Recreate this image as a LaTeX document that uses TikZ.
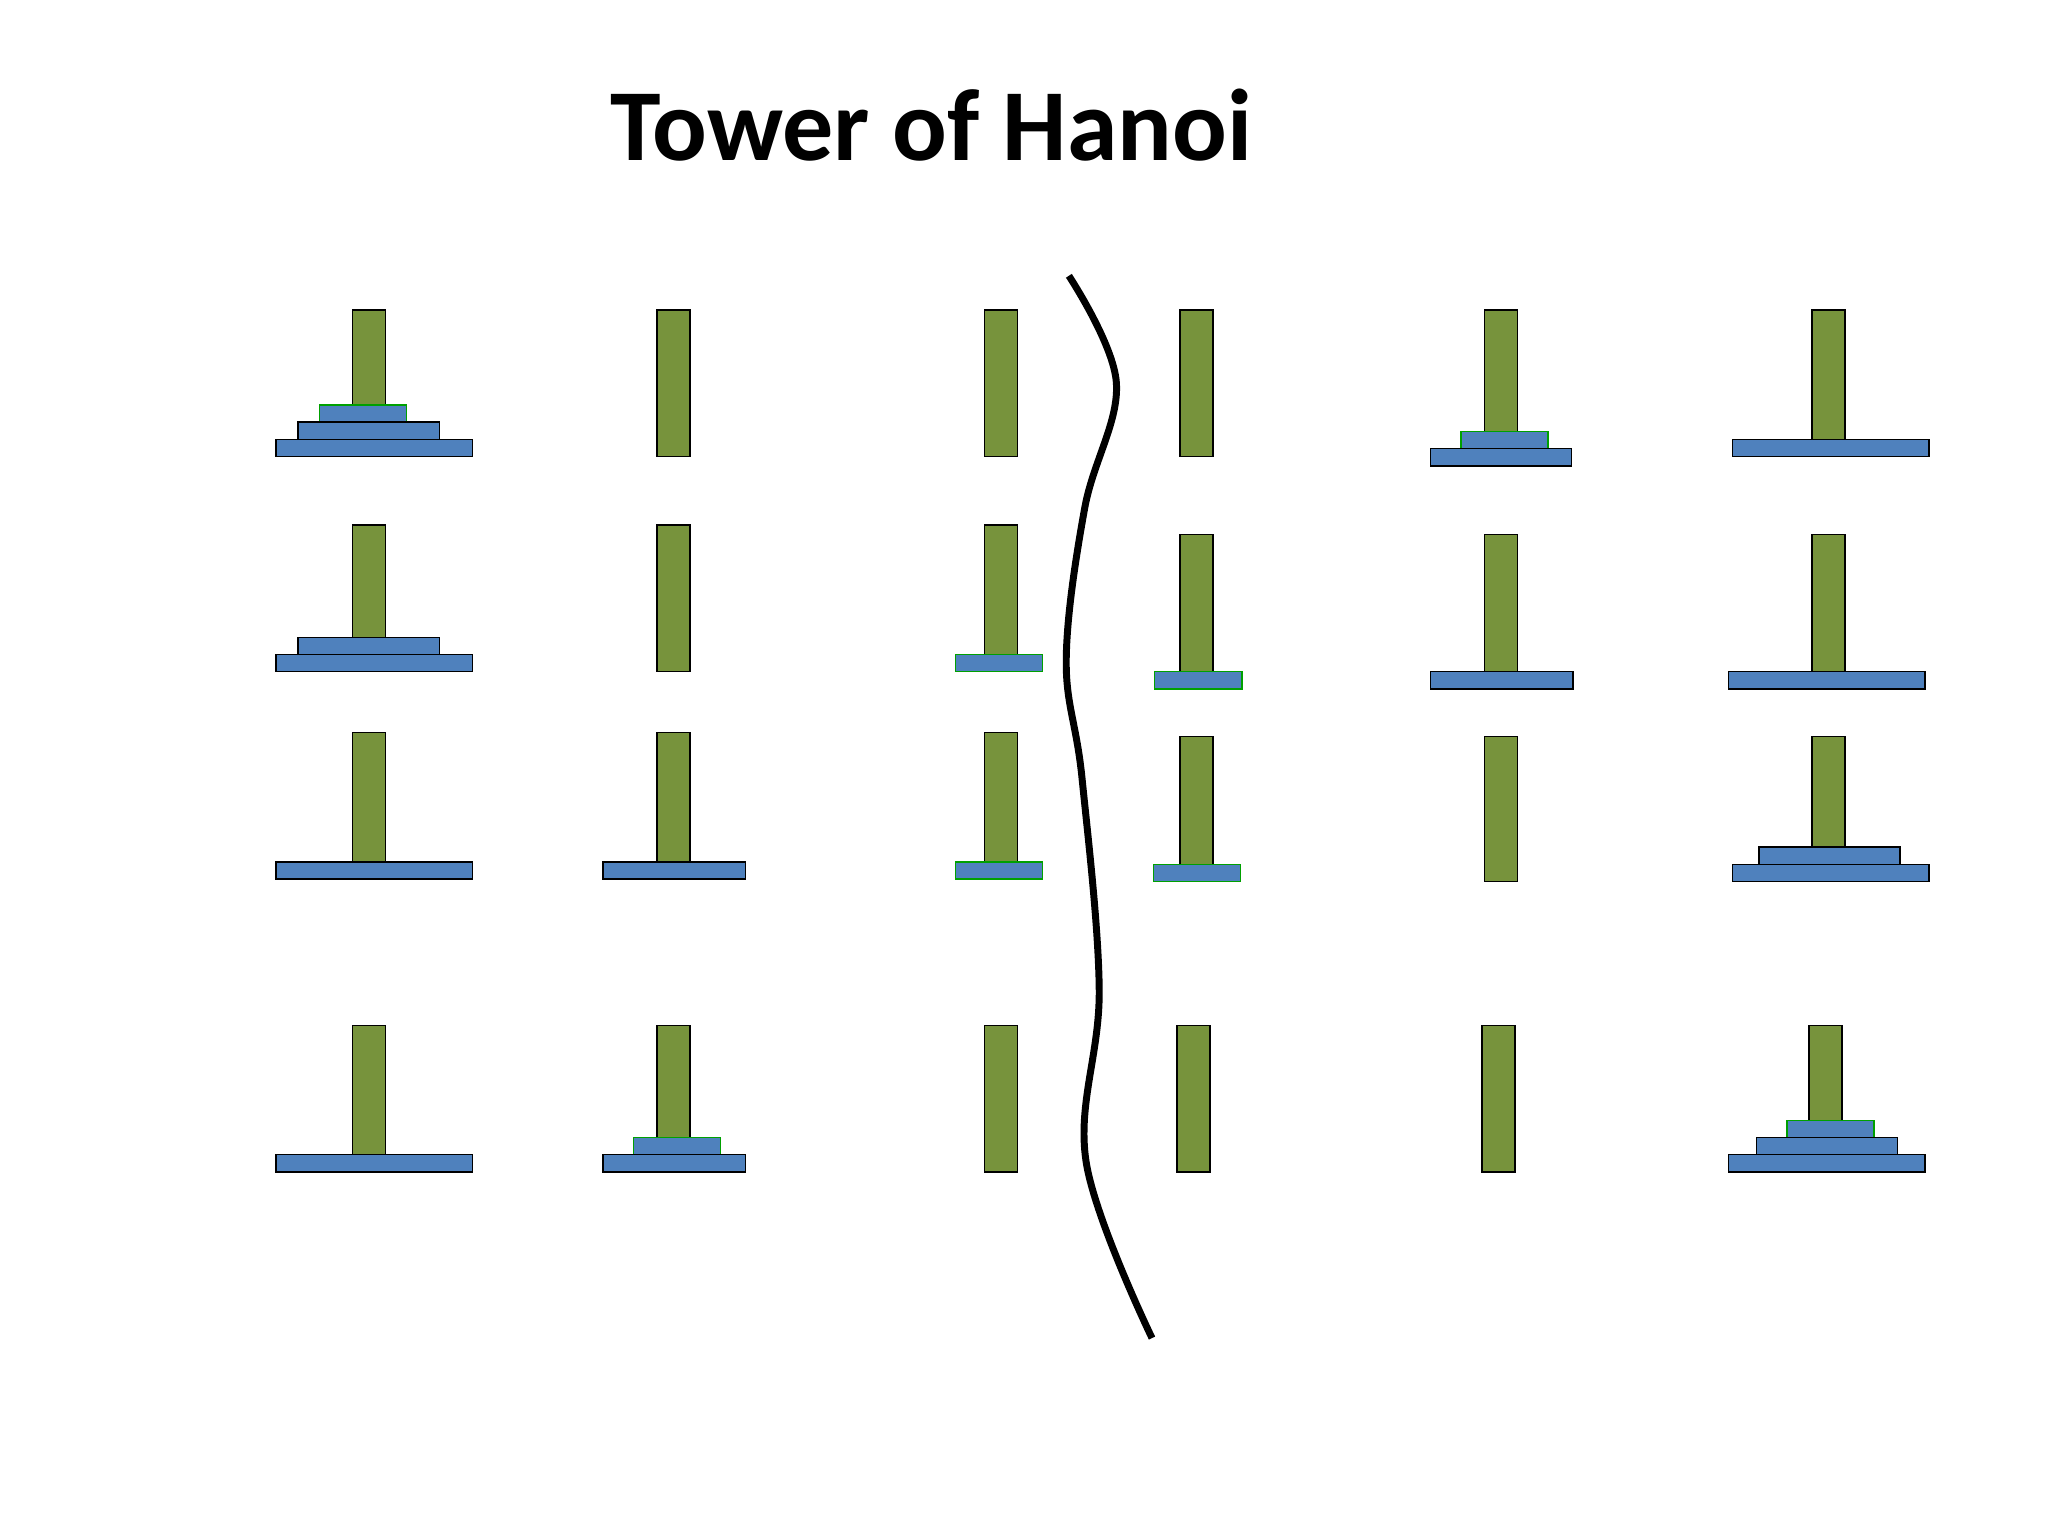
\documentclass[tikz,border=0pt]{standalone}
\usepackage{fontspec}
\setmainfont{Carlito}
\definecolor{pegcol}{HTML}{77933C}
\definecolor{diskcol}{HTML}{4F81BD}
\definecolor{rimcol}{HTML}{00A000}
\tikzset{
  peg/.style={fill=pegcol, draw=black, line width=0.7pt},
  disk/.style={fill=diskcol, draw=black, line width=0.7pt},
  topdisk/.style={fill=diskcol, draw=rimcol, line width=0.7pt},
}
% peg: x-left, y-top, y-bottom ; disk: x1, x2, y-top
\newcommand{\peg}[3]{\draw[peg] (#1,#2) rectangle ++(25,#3-#2);}
\newcommand{\disk}[4][disk]{\draw[#1] (#2,#4) rectangle (#3,#4+13);}
\begin{document}
\begin{tikzpicture}[x=0.02cm, y=-0.02cm]
\useasboundingbox (0,0) rectangle (1552,1164);
\node[font=\bfseries\fontsize{44}{50}\selectfont] (title) at (706,95) {Tower of Hanoi};

% row 1
\peg{267}{235}{346}
\disk[topdisk]{242}{308}{307}
\disk{226}{333}{320}
\disk{209}{358}{333}
\peg{498}{235}{346}
\peg{746}{235}{346}
\peg{894}{235}{346}
\peg{1125}{235}{340}
\disk[topdisk]{1107}{1173}{327}
\disk{1084}{1191}{340}
\peg{1373}{235}{333}
\disk{1313}{1462}{333}

% row 2
\peg{267}{398}{509}
\disk{226}{333}{483}
\disk{209}{358}{496}
\peg{498}{398}{509}
\peg{746}{398}{509}
\disk[topdisk]{724}{790}{496}
\peg{894}{405}{522}
\disk[topdisk]{875}{941}{509}
\peg{1125}{405}{522}
\disk{1084}{1192}{509}
\peg{1373}{405}{522}
\disk{1310}{1459}{509}

% row 3
\peg{267}{555}{666}
\disk{209}{358}{653}
\peg{498}{555}{666}
\disk{457}{565}{653}
\peg{746}{555}{666}
\disk[topdisk]{724}{790}{653}
\peg{894}{558}{668}
\disk[topdisk]{874}{940}{655}
\peg{1125}{558}{668}
\peg{1373}{558}{668}
\disk{1333}{1440}{642}
\disk{1313}{1462}{655}

% row 4
\peg{267}{777}{888}
\disk{209}{358}{875}
\peg{498}{777}{888}
\disk[topdisk]{480}{546}{862}
\disk{457}{565}{875}
\peg{746}{777}{888}
\peg{892}{777}{888}
\peg{1123}{777}{888}
\peg{1371}{777}{888}
\disk[topdisk]{1354}{1420}{849}
\disk{1331}{1438}{862}
\disk{1310}{1459}{875}

% dividing curve
\draw[line width=3pt] plot[smooth, tension=0.6] coordinates
  {(810,209) (846,290) (822,385) (808,500) (820,590) (833,750) (823,880) (873,1014)};
\end{tikzpicture}
\end{document}
